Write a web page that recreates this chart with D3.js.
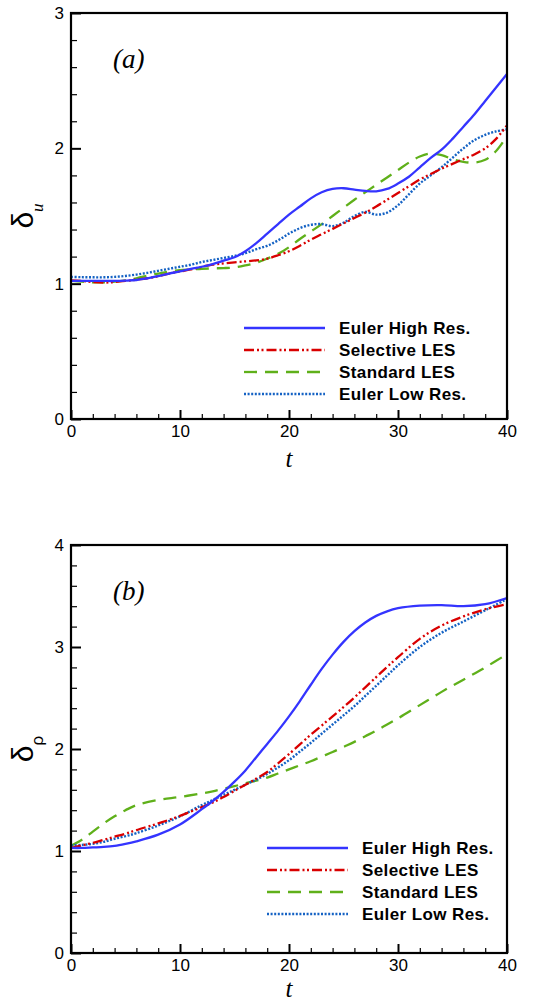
<!DOCTYPE html>
<html>
<head>
<meta charset="utf-8">
<script src="https://cdn.jsdelivr.net/npm/d3@7"></script>
<style>
  html, body { margin: 0; padding: 0; background: #fff; }
  svg { display: block; }
</style>
</head>
<body>
<svg id="chart" width="535" height="1003"></svg>
<script>
// ---------- DATA ----------
const seriesNames = ["Euler High Res.", "Selective LES", "Standard LES", "Euler Low Res."];

// Panel (a): delta_u vs t
const tA = [0,1,2,3,4,5,6,7,8,9,10,11,12,13,14,15,16,17,18,19,20,21,22,23,24,25,26,27,28,29,30,31,32,33,34,35,36,37,38,39,40];
const aHigh = [1.02,1.02,1.02,1.02,1.02,1.022,1.027,1.04,1.055,1.075,1.09,1.11,1.125,1.145,1.17,1.195,1.24,1.30,1.37,1.44,1.51,1.57,1.63,1.675,1.70,1.705,1.695,1.685,1.682,1.70,1.74,1.79,1.86,1.93,1.99,2.07,2.16,2.25,2.35,2.45,2.55];
const aSel  = [1.025,1.02,1.012,1.008,1.012,1.02,1.03,1.04,1.055,1.075,1.09,1.105,1.125,1.14,1.15,1.158,1.165,1.172,1.185,1.21,1.24,1.28,1.325,1.365,1.405,1.445,1.485,1.525,1.57,1.62,1.67,1.72,1.77,1.81,1.85,1.885,1.92,1.955,2.00,2.07,2.17];
const aStd  = [1.02,1.015,1.01,1.01,1.015,1.025,1.04,1.06,1.075,1.09,1.10,1.105,1.11,1.113,1.115,1.12,1.135,1.155,1.185,1.22,1.27,1.33,1.385,1.44,1.50,1.56,1.62,1.675,1.73,1.785,1.84,1.895,1.94,1.962,1.95,1.92,1.90,1.895,1.915,1.98,2.09];
const aLow  = [1.05,1.048,1.047,1.047,1.05,1.057,1.067,1.08,1.095,1.11,1.125,1.14,1.16,1.175,1.19,1.205,1.225,1.255,1.28,1.32,1.37,1.41,1.435,1.44,1.425,1.45,1.50,1.53,1.51,1.525,1.58,1.66,1.74,1.80,1.86,1.93,2.00,2.06,2.10,2.125,2.14];

// Panel (b): delta_rho vs t
const tB = [0,1,2,3,4,5,6,8,10,12,13,14,15,16,17,18,19,20,21,22,23,24,25,26,27,28,29,30,32,34,36,38,40];
const bHigh = [1.03,1.03,1.035,1.04,1.05,1.07,1.095,1.16,1.26,1.41,1.49,1.58,1.68,1.79,1.92,2.05,2.18,2.32,2.47,2.63,2.785,2.925,3.05,3.155,3.24,3.305,3.35,3.38,3.405,3.41,3.40,3.42,3.48];
const bSel  = [1.03,1.055,1.08,1.11,1.14,1.17,1.205,1.27,1.345,1.43,1.475,1.53,1.59,1.65,1.71,1.775,1.86,1.95,2.045,2.14,2.23,2.32,2.41,2.505,2.605,2.705,2.805,2.90,3.08,3.21,3.30,3.37,3.42];
const bStd  = [1.05,1.11,1.19,1.27,1.34,1.40,1.45,1.50,1.53,1.565,1.585,1.61,1.635,1.665,1.69,1.72,1.76,1.80,1.84,1.88,1.925,1.97,2.02,2.07,2.125,2.18,2.24,2.30,2.43,2.56,2.68,2.80,2.93];
const bLow  = [1.055,1.06,1.07,1.09,1.12,1.145,1.175,1.25,1.34,1.45,1.50,1.55,1.60,1.65,1.70,1.755,1.82,1.89,1.975,2.06,2.15,2.24,2.33,2.42,2.52,2.62,2.72,2.82,3.00,3.14,3.25,3.36,3.47];

// Ticks
const xMajor = [0,10,20,30,40];
const xMinor = [2,4,6,8,12,14,16,18,22,24,26,28,32,34,36,38];
const yMajorA = [0,1,2,3];
const yMajorB = [0,1,2,3,4];

// ---------- STYLES ----------
const styles = [
  { color: "#3434ff", dash: null,                 width: 2.3 },
  { color: "#d90000", dash: "10,3,2,2.5,2,3",     width: 2.3 },
  { color: "#5fb01a", dash: "13,8",               width: 2.3 },
  { color: "#1462c4", dash: "2,1.6",              width: 2.4 }
];

const svg = d3.select("#chart");
const fmt = d3.format("d");

function minorTicks(max) {
  const out = [];
  for (let i = 0; i < max * 5; i++) { if (i % 5 !== 0) out.push(i / 5); }
  return out;
}

function drawPanel(cfg) {
  const { left, right, top, bottom, yMax, yMajor, tVals, series, label, legendX, legendY, ySub, ySubItalic, subFont, titleOffset } = cfg;
  const x = d3.scaleLinear().domain([0, 40]).range([left, right]);
  const y = d3.scaleLinear().domain([0, yMax]).range([bottom, top]);
  const g = svg.append("g");

  // minor x ticks
  g.append("g").attr("transform", `translate(0,${bottom})`)
    .call(d3.axisBottom(x).tickValues(xMinor).tickSizeInner(-5).tickSizeOuter(0).tickFormat(""))
    .call(s => s.select(".domain").remove())
    .call(s => s.selectAll("line").attr("stroke", "#000").attr("stroke-width", 1.2));
  // major x ticks
  g.append("g").attr("transform", `translate(0,${bottom})`)
    .call(d3.axisBottom(x).tickValues(xMajor).tickFormat(fmt).tickSizeInner(-9).tickSizeOuter(0).tickPadding(6))
    .call(s => s.select(".domain").remove())
    .call(s => s.selectAll("line").attr("stroke", "#000").attr("stroke-width", 2))
    .call(s => s.selectAll("text").attr("fill", "#000")
      .style("font-family", "'Liberation Sans', Arial, sans-serif").style("font-size", "17px"));

  // minor y ticks
  g.append("g").attr("transform", `translate(${left},0)`)
    .call(d3.axisLeft(y).tickValues(minorTicks(yMax)).tickSizeInner(-6).tickSizeOuter(0).tickFormat(""))
    .call(s => s.select(".domain").remove())
    .call(s => s.selectAll("line").attr("stroke", "#000").attr("stroke-width", 1.2));
  // major y ticks
  g.append("g").attr("transform", `translate(${left},0)`)
    .call(d3.axisLeft(y).tickValues(yMajor).tickFormat(fmt).tickSizeInner(-10).tickSizeOuter(0).tickPadding(7))
    .call(s => s.select(".domain").remove())
    .call(s => s.selectAll("line").attr("stroke", "#000").attr("stroke-width", 2))
    .call(s => s.selectAll("text").attr("fill", "#000")
      .style("font-family", "'Liberation Sans', Arial, sans-serif").style("font-size", "17px"));

  // lines
  const clipId = "clip-" + label.replace(/[^a-z]/g, "");
  svg.append("clipPath").attr("id", clipId).append("rect")
    .attr("x", left).attr("y", top).attr("width", right - left).attr("height", bottom - top);
  const line = d3.line().x(d => x(d[0])).y(d => y(d[1])).curve(d3.curveCatmullRom.alpha(0.5));
  // draw order: standard, low, selective, high (high on top)
  [2, 3, 1, 0].forEach(i => {
    const data = tVals.map((t, k) => [t, series[i][k]]);
    g.append("path").datum(data)
      .attr("clip-path", `url(#${clipId})`)
      .attr("fill", "none")
      .attr("stroke", styles[i].color)
      .attr("stroke-width", styles[i].width)
      .attr("stroke-dasharray", styles[i].dash)
      .attr("d", line);
  });

  // frame
  g.append("rect").attr("x", left).attr("y", top)
    .attr("width", right - left).attr("height", bottom - top)
    .attr("fill", "none").attr("stroke", "#000").attr("stroke-width", 2.2);

  // panel label
  g.append("text").attr("x", left + 42).attr("y", top + 55)
    .style("font-family", "'Liberation Serif', 'Times New Roman', serif")
    .style("font-style", "italic").style("font-size", "27px")
    .text(label);

  // x axis title
  g.append("text").attr("x", (left + right) / 2).attr("y", bottom + titleOffset)
    .attr("text-anchor", "middle")
    .style("font-family", "'Liberation Serif', 'Times New Roman', serif")
    .style("font-style", "italic").style("font-size", "25px")
    .text("t");

  // y axis title
  const yt = g.append("text")
    .attr("transform", `translate(33,${(top + bottom) / 2}) rotate(-90)`)
    .attr("text-anchor", "middle");
  yt.append("tspan")
    .style("font-family", "'Liberation Sans', Arial, sans-serif")
    .style("font-size", "30px").text("δ");
  yt.append("tspan").attr("dy", 10)
    .style("font-family", subFont)
    .style("font-style", ySubItalic ? "italic" : "normal")
    .style("font-size", "17px").text(ySub);

  // legend
  const rowH = 22;
  seriesNames.forEach((name, i) => {
    const yy = legendY + i * rowH;
    g.append("line")
      .attr("x1", legendX).attr("x2", legendX + 81)
      .attr("y1", yy).attr("y2", yy)
      .attr("stroke", styles[i].color)
      .attr("stroke-width", styles[i].width)
      .attr("stroke-dasharray", styles[i].dash);
    g.append("text").attr("x", legendX + 95).attr("y", yy)
      .attr("dy", "0.36em")
      .style("font-family", "'Liberation Sans', Arial, sans-serif")
      .style("font-weight", "bold").style("font-size", "17px")
      .style("letter-spacing", "0.4px")
      .text(name);
  });
}

drawPanel({
  left: 71, right: 507, top: 13, bottom: 419, yMax: 3, yMajor: yMajorA,
  tVals: tA, series: [aHigh, aSel, aStd, aLow], label: "(a)",
  legendX: 244, legendY: 328, ySub: "u", ySubItalic: true,
  subFont: "'Liberation Serif', 'Times New Roman', serif", titleOffset: 48
});

drawPanel({
  left: 71, right: 507, top: 545, bottom: 953, yMax: 4, yMajor: yMajorB,
  tVals: tB, series: [bHigh, bSel, bStd, bLow], label: "(b)",
  legendX: 267, legendY: 848, ySub: "ρ", ySubItalic: false,
  subFont: "'Liberation Sans', Arial, sans-serif", titleOffset: 44
});
</script>
</body>
</html>
